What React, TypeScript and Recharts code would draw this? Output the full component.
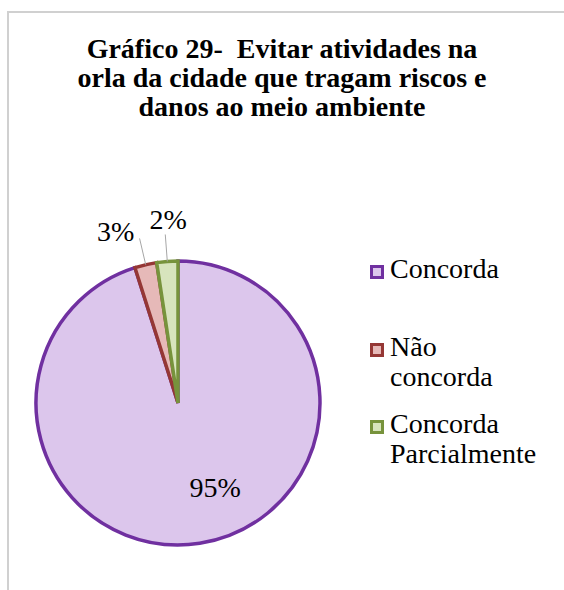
import { PieChart, Pie, Cell, Legend } from 'recharts';

const categories = ['Concorda', 'Não concorda', 'Concorda Parcialmente'];
const shares = [95.1, 2.5, 2.4];
const fills = ['#dcc6ec', '#e6b9b8', '#d7e4bd'];
const strokes = ['#7030a0', '#953735', '#77933c'];

const titleLines = ['Gráfico 29-  Evitar atividades na', 'orla da cidade que tragam riscos e', 'danos ao meio ambiente'];

const data = categories.map((name, i) => ({ name, value: shares[i] }));

const FONT = '"Liberation Serif", "Times New Roman", serif';
const RAD = Math.PI / 180;

// label placement tweaks (Excel "best fit" look)
const outsideShift = [
    { dx: 0, dy: 0 },
    { dx: -24, dy: 3 },
    { dx: 3, dy: -5 },
];

const renderLabel = (props: any) => {
    const { cx, cy, midAngle, outerRadius, percent, index } = props;
    const text = `${Math.round(percent * 100)}%`;
    if (index === 0) {
        const a = (midAngle + 15) * RAD;
        const r = outerRadius * 0.65;
        return (
            <text x={cx + r * Math.cos(a)} y={cy - r * Math.sin(a) + 10} textAnchor="middle" fontFamily={FONT} fontSize={28} fill="#000">
                {text}
            </text>
        );
    }
    const a = midAngle * RAD;
    const x1 = cx + outerRadius * Math.cos(a);
    const y1 = cy - outerRadius * Math.sin(a);
    const x2 = cx + (outerRadius + 27) * Math.cos(a);
    const y2 = cy - (outerRadius + 27) * Math.sin(a);
    const s = outsideShift[index];
    return (
        <g>
            <line x1={x1} y1={y1} x2={x2} y2={y2} stroke="#a6a6a6" strokeWidth={1} />
            <text x={x2 + s.dx} y={y2 + s.dy} textAnchor="middle" fontFamily={FONT} fontSize={28} fill="#000">
                {text}
            </text>
        </g>
    );
};

const LegendBox = () => (
    <div style={{ fontFamily: FONT, fontSize: 28, lineHeight: '30px', color: '#000' }}>
        {categories.map((name, i) => (
            <div key={name} style={{ position: 'relative', height: 77.5 }}>
                <div
                    style={{
                        position: 'absolute',
                        left: 0,
                        top: 11,
                        width: 8,
                        height: 8,
                        background: fills[i],
                        border: `3px solid ${strokes[i]}`,
                    }}
                />
                <div style={{ marginLeft: 20, width: 150 }}>{name}</div>
            </div>
        ))}
    </div>
);

export default function App() {
    return (
        <div style={{ position: 'fixed', left: 0, top: 0, width: 564, height: 590, overflow: 'hidden', background: '#fff' }}>
            <div
                style={{
                    position: 'absolute',
                    left: 7,
                    top: 11,
                    width: 557,
                    height: 579,
                    boxSizing: 'border-box',
                    borderLeft: '2px solid #d0d0d0',
                    borderTop: '2px solid #d0d0d0',
                }}
            />
            <div
                style={{
                    position: 'absolute',
                    left: -18,
                    top: 34,
                    width: 600,
                    textAlign: 'center',
                    fontFamily: FONT,
                    fontWeight: 'bold',
                    fontSize: 28,
                    lineHeight: '29px',
                    whiteSpace: 'pre',
                    color: '#000',
                }}
            >
                {titleLines.join('\n')}
            </div>
            <div style={{ position: 'absolute', left: 0, top: 0 }}>
                <PieChart width={564} height={590} margin={{ top: 0, right: 0, bottom: 0, left: 0 }}>
                    <Pie
                        data={data}
                        dataKey="value"
                        nameKey="name"
                        cx={178}
                        cy={403}
                        outerRadius={142}
                        startAngle={90}
                        endAngle={-270}
                        strokeWidth={3.5}
                        label={renderLabel}
                        labelLine={false}
                        isAnimationActive={false}
                    >
                        {data.map((entry, i) => (
                            <Cell key={entry.name} fill={fills[i]} stroke={strokes[i]} strokeWidth={3.5} />
                        ))}
                    </Pie>
                    <Legend
                        content={<LegendBox />}
                        wrapperStyle={{ position: 'absolute', left: 370, top: 254, width: 190 }}
                    />
                </PieChart>
            </div>
        </div>
    );
}
